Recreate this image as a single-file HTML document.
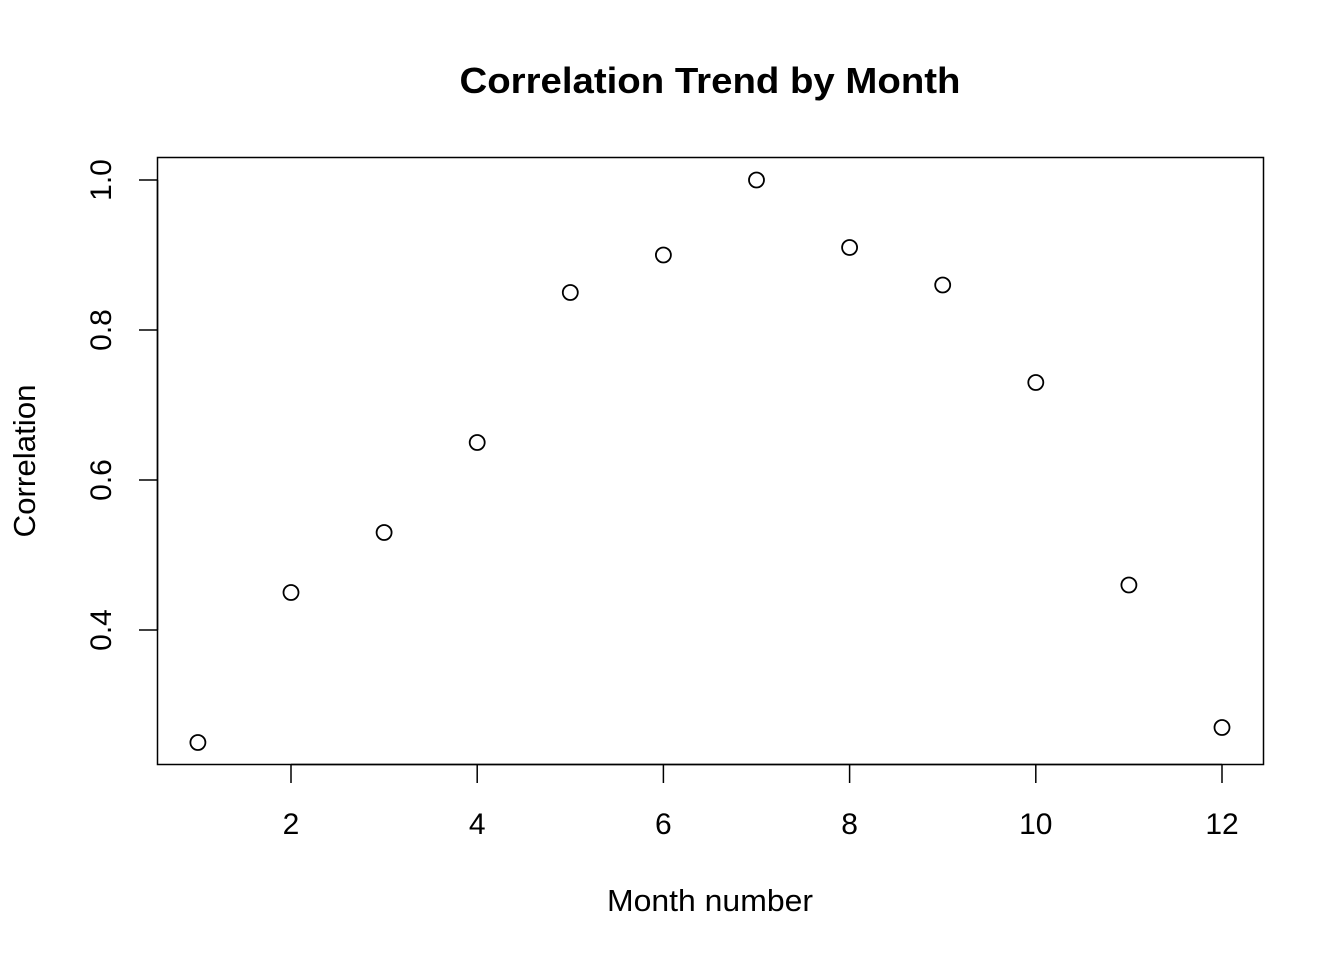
<!DOCTYPE html>
<html>
<head>
<meta charset="utf-8">
<style>
html,body{margin:0;padding:0;background:#fff;}
svg{display:block;font-family:"Liberation Sans",Arial,sans-serif;}
</style>
</head>
<body>
<svg id="chart" width="1344" height="960" viewBox="0 0 1344 960" xmlns="http://www.w3.org/2000/svg">
<rect width="1344" height="960" fill="#fff"/>
<text x="710" y="93" text-anchor="middle" font-size="36" font-weight="bold" textLength="501" lengthAdjust="spacingAndGlyphs">Correlation Trend by Month</text>
<rect x="157.5" y="157.5" width="1106" height="607" fill="none" stroke="#000" stroke-width="1.5"/>
<text x="710" y="911" text-anchor="middle" font-size="31" textLength="206" lengthAdjust="spacingAndGlyphs">Month number</text>
<text transform="translate(35,461) rotate(-90)" text-anchor="middle" font-size="31" textLength="153" lengthAdjust="spacingAndGlyphs">Correlation</text>
<g id="xaxis"></g>
<g id="yaxis"></g>
<g id="points"></g>
</svg>
<script>
const months = [1,2,3,4,5,6,7,8,9,10,11,12];
const correlations = [0.25,0.45,0.53,0.65,0.85,0.90,1.0,0.91,0.86,0.73,0.46,0.27];
const xTicks = [2,4,6,8,10,12];
const yTicks = [0.4,0.6,0.8,1.0];
const yTickLabels = ["0.4","0.6","0.8","1.0"];

const NS = "http://www.w3.org/2000/svg";
const xScale = v => 291 + (v - 2) * 93.1;
const yScale = v => 630 - (v - 0.4) * 750;
function mk(tag, attrs, parent){const e=document.createElementNS(NS,tag);for(const k in attrs)e.setAttribute(k,attrs[k]);parent.appendChild(e);return e;}

const xg = document.getElementById('xaxis');
mk('line',{x1:xScale(xTicks[0]),x2:xScale(xTicks[xTicks.length-1]),y1:764.5,y2:764.5,stroke:'#000','stroke-width':1.5},xg);
xTicks.forEach(t=>{
  const l=mk('line',{x1:xScale(t),x2:xScale(t),y1:764.5,y2:783,stroke:'#000','stroke-width':1.5},xg);
  
  
  const tx=mk('text',{x:xScale(t),y:834,'text-anchor':'middle','font-size':30},xg);
  tx.textContent=t;
  
  
});
const yg = document.getElementById('yaxis');
mk('line',{x1:157.5,x2:157.5,y1:yScale(yTicks[0]),y2:yScale(yTicks[yTicks.length-1]),stroke:'#000','stroke-width':1.5},yg);
yTicks.forEach((t,i)=>{
  const y=yScale(t);
  const l=mk('line',{x1:139,x2:157.5,y1:y,y2:y,stroke:'#000','stroke-width':1.5},yg);
  
  
  const tx=mk('text',{transform:`translate(111,${y}) rotate(-90)`,'text-anchor':'middle','font-size':30},yg);
  tx.textContent=yTickLabels[i];
  
  
});
const pg = document.getElementById('points');
months.forEach((m,i)=>{
  const c=mk('circle',{cx:xScale(m),cy:yScale(correlations[i]),r:7.5,fill:'none',stroke:'#000','stroke-width':1.8},pg);
  
  
});
</script>
</body>
</html>
